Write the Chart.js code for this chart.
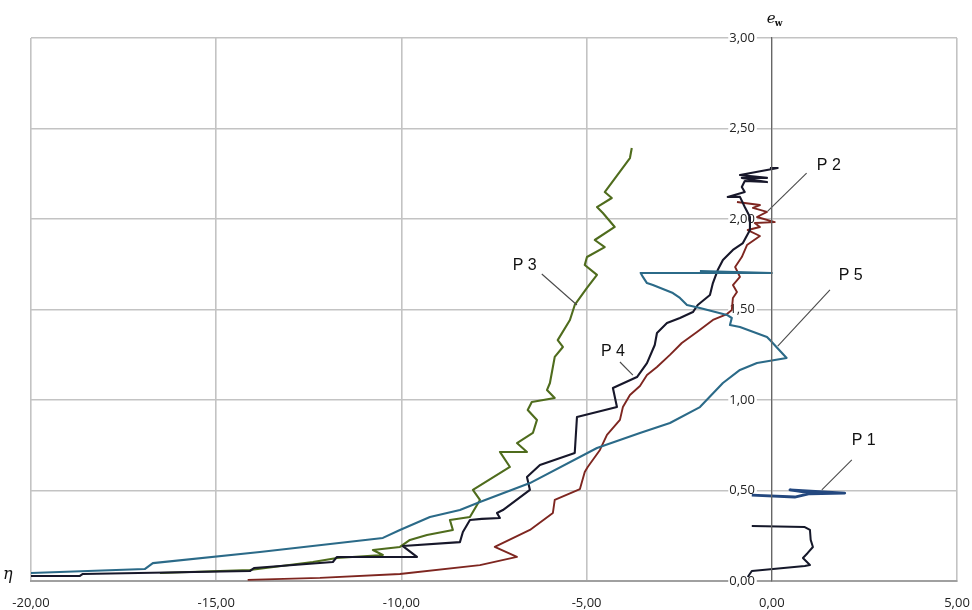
<!DOCTYPE html>
<html><head><meta charset="utf-8">
<script src="https://cdn.jsdelivr.net/npm/chart.js@4.4.0/dist/chart.umd.min.js"></script>
<style>html,body{margin:0;padding:0;background:#fff;}#wrap{width:972px;height:610px;}</style>
</head><body><div id="wrap"><canvas id="c" width="972" height="610"></canvas></div>
<script>
// ---- data (x = η, y = e_w) ----
const xTicks = [-20, -15, -10, -5, 0, 5];
const yTicks = [0, 0.5, 1, 1.5, 2, 2.5, 3];

const p1Lower = [[-0.65,0.022],[-0.54,0.055],[0.89,0.083],[1.03,0.088],[0.84,0.127],[0.97,0.155],[1.11,0.188],[1.05,0.227],[1.03,0.282],[0.89,0.298],[-0.54,0.304]];
const p1Upper = [[-0.54,0.475],[0.62,0.464],[1.08,0.486],[0.49,0.503],[1.97,0.486],[1.03,0.481]];

const p2 = [[-14.15,0.006],[-12.20,0.017],[-10.04,0.039],[-7.88,0.088],[-6.88,0.133],[-7.48,0.188],[-6.53,0.282],[-5.91,0.376],[-5.86,0.448],[-5.18,0.508],[-5.05,0.602],[-4.97,0.630],[-4.64,0.724],[-4.45,0.807],[-4.10,0.890],[-4.02,0.961],[-3.83,1.028],[-3.56,1.077],[-3.37,1.138],[-3.10,1.182],[-2.75,1.249],[-2.43,1.315],[-2.02,1.376],[-1.59,1.442],[-1.21,1.475],[-1.08,1.497],[-1.05,1.564],[-0.94,1.597],[-1.05,1.635],[-0.86,1.680],[-0.99,1.735],[-0.81,1.790],[-0.67,1.856],[-0.32,1.906],[-0.65,1.939],[-0.32,1.956],[-0.46,1.978],[0.08,1.983],[-0.40,2.011],[-0.13,2.039],[-0.51,2.061],[-0.32,2.077],[-0.94,2.094]];

const p3 = [[-16.52,0.044],[-14.09,0.061],[-12.39,0.105],[-11.74,0.127],[-10.50,0.144],[-10.77,0.171],[-10.04,0.188],[-9.77,0.227],[-9.31,0.254],[-8.61,0.282],[-8.69,0.337],[-8.15,0.354],[-7.88,0.448],[-8.07,0.503],[-7.07,0.630],[-7.34,0.713],[-6.61,0.713],[-6.88,0.762],[-6.45,0.818],[-6.34,0.890],[-6.59,0.945],[-6.48,0.989],[-5.86,1.011],[-6.07,1.055],[-5.99,1.094],[-5.86,1.238],[-5.64,1.293],[-5.78,1.331],[-5.45,1.442],[-5.32,1.525],[-4.99,1.619],[-4.72,1.691],[-5.05,1.746],[-4.99,1.790],[-4.51,1.845],[-4.78,1.884],[-4.24,1.956],[-4.56,2.033],[-4.72,2.066],[-4.32,2.116],[-4.51,2.149],[-3.83,2.337],[-3.78,2.392]];

const p4 = [[-20.00,0.028],[-18.68,0.028],[-18.60,0.039],[-14.09,0.055],[-13.98,0.072],[-11.85,0.105],[-11.74,0.133],[-9.58,0.133],[-9.96,0.193],[-8.42,0.215],[-8.34,0.271],[-8.15,0.337],[-7.83,0.343],[-7.34,0.348],[-7.42,0.376],[-7.26,0.392],[-6.53,0.503],[-6.61,0.575],[-6.26,0.641],[-5.32,0.707],[-5.26,0.906],[-4.18,0.961],[-4.29,1.066],[-3.64,1.127],[-3.37,1.204],[-3.16,1.304],[-3.10,1.370],[-2.83,1.425],[-2.48,1.453],[-2.13,1.486],[-2.00,1.525],[-1.67,1.580],[-1.59,1.646],[-1.46,1.718],[-1.32,1.773],[-1.05,1.829],[-0.78,1.867],[-0.59,1.939],[-0.59,2.011],[-0.73,2.066],[-0.86,2.122],[-1.19,2.122],[-0.73,2.149],[-0.81,2.177],[-0.73,2.210],[-0.13,2.204],[-0.81,2.227],[-0.13,2.227],[-0.86,2.243],[0.16,2.282],[-0.05,2.282]];

const p5 = [[-20.00,0.044],[-16.93,0.066],[-16.71,0.099],[-13.82,0.160],[-10.50,0.238],[-10.04,0.282],[-9.23,0.354],[-8.42,0.392],[-7.88,0.436],[-6.53,0.541],[-4.72,0.735],[-3.56,0.818],[-2.75,0.873],[-1.94,0.961],[-1.32,1.094],[-0.86,1.166],[-0.40,1.204],[0.40,1.232],[-0.05,1.331],[-0.13,1.348],[-0.86,1.403],[-1.13,1.414],[-1.08,1.453],[-1.21,1.470],[-1.94,1.508],[-2.29,1.525],[-2.48,1.564],[-2.67,1.591],[-3.21,1.635],[-3.37,1.646],[-3.48,1.680],[-3.54,1.702],[0.00,1.702],[-1.94,1.713]];

// series labels: text, label centre [x,y], leader start [x,y], leader end [x,y]
const labelNames = ['P 1', 'P 2', 'P 3', 'P 4', 'P 5'];
const labelPos   = [[2.48,0.773],[1.54,2.293],[-6.67,1.740],[-4.29,1.265],[2.13,1.685]];
const leaderFrom = [[2.16,0.669],[0.94,2.254],[-6.21,1.696],[-4.10,1.210],[1.57,1.608]];
const leaderTo   = [[1.35,0.503],[-0.11,2.044],[-5.26,1.525],[-3.75,1.138],[0.16,1.298]];

const fmt = v => v.toFixed(2).replace('.', ',');

const annotate = {
  id: 'annotate',
  afterDatasetsDraw(chart) {
    const {ctx, scales: {x, y}} = chart;
    ctx.save();
    ctx.strokeStyle = '#4a4a4a';
    ctx.lineWidth = 1.1;
    for (let i = 0; i < labelNames.length; i++) {
      ctx.beginPath();
      ctx.moveTo(x.getPixelForValue(leaderFrom[i][0]), y.getPixelForValue(leaderFrom[i][1]));
      ctx.lineTo(x.getPixelForValue(leaderTo[i][0]), y.getPixelForValue(leaderTo[i][1]));
      ctx.stroke();
    }
    ctx.fillStyle = '#111';
    ctx.font = '16px "Liberation Sans", Arial, sans-serif';
    ctx.textAlign = 'center';
    ctx.textBaseline = 'middle';
    for (let i = 0; i < labelNames.length; i++) {
      ctx.fillText(labelNames[i], x.getPixelForValue(labelPos[i][0]), y.getPixelForValue(labelPos[i][1]));
    }
    // axis symbols
    const x0 = x.getPixelForValue(0);
    ctx.textAlign = 'left';
    ctx.textBaseline = 'alphabetic';
    ctx.font = 'italic 15px "DejaVu Serif", "Liberation Serif", serif';
    ctx.fillText('e', x0 - 5, y.top - 15);
    ctx.font = 'bold 9px "DejaVu Serif", "Liberation Serif", serif';
    ctx.fillText('w', x0 + 3, y.top - 12);
    ctx.font = 'italic 16px "DejaVu Serif", "Liberation Serif", serif';
    ctx.fillText('\u03B7', 3, y.getPixelForValue(0) - 2);
    ctx.restore();
  }
};

const mk = (label, data, color, w) => ({
  label, data, borderColor: color, backgroundColor: color, borderWidth: w,
  showLine: true, pointRadius: 0, fill: false, tension: 0, borderJoinStyle: 'round'
});

new Chart(document.getElementById('c'), {
  type: 'scatter',
  data: {
    datasets: [
      mk('P 5', p5, '#2b6a88', 2.1),
      mk('P 1', p1Upper, '#24487f', 2.8),
      mk('P 1', p1Lower, '#15182a', 2.0),
      mk('P 4', p4, '#17172a', 2.1),
      mk('P 3', p3, '#4f6c1d', 2.1),
      mk('P 2', p2, '#7e2620', 1.9)
    ]
  },
  options: {
    responsive: false,
    animation: false,
    layout: { padding: { left: 31, right: 15, top: 38, bottom: 0 } },
    plugins: { legend: { display: false }, tooltip: { enabled: false } },
    scales: {
      x: {
        type: 'linear', position: 'bottom', min: -20, max: 5,
        afterBuildTicks: s => { s.ticks = xTicks.map(v => ({ value: v })); },
        afterFit: s => { s.height = 29; },
        grid: { color: '#c3c3c3', lineWidth: 1.6, drawTicks: true, tickLength: 14, tickColor: 'rgba(0,0,0,0)' },
        border: { color: '#a0a0a0', width: 2 },
        ticks: { padding: 0, color: '#222', font: { family: '"Open Sans", sans-serif', size: 13 }, callback: v => fmt(v) }
      },
      y: {
        type: 'linear', position: { x: 0 }, min: 0, max: 3,
        afterBuildTicks: s => { s.ticks = yTicks.map(v => ({ value: v })); },
        grid: { color: '#c3c3c3', lineWidth: 1.6, drawTicks: false },
        border: { color: '#666666', width: 1.2, z: 1 },
        ticks: {
          color: '#222', font: { family: '"Open Sans", sans-serif', size: 13 },
          callback: v => fmt(v) + '     ',
          showLabelBackdrop: true, backdropColor: '#ffffff',
          backdropPadding: { top: 0, bottom: 0, left: 1, right: -15 }
        }
      }
    }
  },
  plugins: [annotate]
});
</script>
</body></html>
